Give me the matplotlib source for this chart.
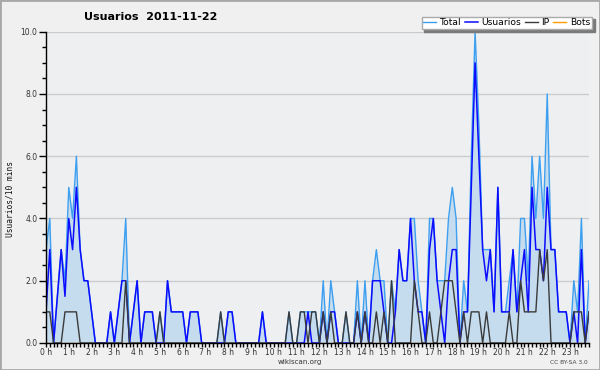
import matplotlib
matplotlib.use('Agg')
import matplotlib.pyplot as plt
import numpy as np
from matplotlib.ticker import MultipleLocator, FixedLocator, FixedFormatter
from matplotlib.patches import Rectangle

title = "Usuarios  2011-11-22"
hour_labels = [f"{h} h" for h in range(24)]

usuarios = [1, 3, 0, 1.5, 3, 1.5, 4, 3, 5, 3, 2, 2, 1, 0, 0, 0, 0, 1, 0, 1,
            2, 2, 0, 1, 2, 0, 1, 1, 1, 0, 0, 0, 2, 1, 1, 1, 1, 0, 1, 1,
            1, 0, 0, 0, 0, 0, 0, 0, 1, 1, 0, 0, 0, 0, 0, 0, 0, 1, 0, 0,
            0, 0, 0, 0, 0, 0, 0, 0, 0, 1, 0, 0, 0, 1, 0, 1, 1, 0, 0, 0,
            0, 0, 1, 0, 1, 0, 2, 2, 2, 1, 0, 0, 1, 3, 2, 2, 4, 2, 1, 1,
            0, 3, 4, 2, 1, 0, 2, 3, 3, 0, 1, 1, 5, 9, 6, 3, 2, 3, 1, 5,
            1, 1, 1, 3, 1, 2, 3, 1, 5, 3, 3, 2, 5, 3, 3, 1, 1, 1, 0, 1,
            0, 3, 0, 1]
ip = [1, 1, 0, 0, 0, 1, 1, 1, 1, 0, 0, 0, 0, 0, 0, 0, 0, 0, 0, 0,
      0, 2, 0, 0, 0, 0, 0, 0, 0, 0, 1, 0, 0, 0, 0, 0, 0, 0, 0, 0,
      0, 0, 0, 0, 0, 0, 1, 0, 0, 0, 0, 0, 0, 0, 0, 0, 0, 0, 0, 0,
      0, 0, 0, 0, 1, 0, 0, 1, 1, 0, 1, 1, 0, 1, 0, 1, 0, 0, 0, 1,
      0, 0, 1, 0, 1, 0, 0, 1, 0, 1, 0, 2, 0, 0, 0, 0, 0, 2, 1, 0,
      0, 1, 0, 0, 1, 2, 2, 2, 1, 0, 1, 0, 1, 1, 1, 0, 1, 0, 0, 0,
      0, 0, 1, 0, 0, 2, 1, 1, 1, 1, 3, 2, 3, 0, 0, 0, 0, 0, 0, 1,
      1, 1, 0, 1]
total = [3, 4, 0, 1.5, 3, 2, 5, 4, 6, 3, 2, 2, 1, 0, 0, 0, 0, 1, 0, 1,
         2, 4, 0, 1, 2, 0, 1, 1, 1, 0, 1, 0, 2, 1, 1, 1, 1, 0, 1, 1,
         1, 0, 0, 0, 0, 0, 1, 0, 1, 1, 0, 0, 0, 0, 0, 0, 0, 1, 0, 0,
         0, 0, 0, 0, 1, 0, 0, 1, 1, 1, 1, 1, 0, 2, 0, 2, 1, 0, 0, 1,
         0, 0, 2, 0, 2, 0, 2, 3, 2, 2, 0, 2, 1, 3, 2, 2, 4, 4, 2, 1,
         0, 4, 4, 2, 2, 2, 4, 5, 4, 0, 2, 1, 6, 10, 7, 3, 3, 3, 1, 5,
         1, 1, 2, 3, 1, 4, 4, 2, 6, 4, 6, 4, 8, 3, 3, 1, 1, 1, 0, 2,
         1, 4, 0, 2]
bots = [0] * 144

W, H = 600, 370
fig = plt.figure(figsize=(6, 3.7), dpi=100, facecolor='#f0f0f0')
ax = fig.add_axes([46 / W, 1 - 343 / H, (589 - 46) / W, (343 - 31.7) / H])
ax.set_facecolor('#eeeff1')

t = np.arange(len(total)) / 6.0
ax.fill_between(t, total, 0, color='#c5dcef', lw=0, zorder=1)
ax.plot(t, bots, color='#ff9900', lw=1, label='Bots', zorder=1.5)
ax.plot(t, total, color='#3d9ff0', lw=1, label='Total', zorder=3)
ax.plot(t, usuarios, color='#0c0cff', lw=1.1, label='Usuarios', zorder=4)
ax.plot(t, ip, color='#3a3a3a', lw=1, label='IP', zorder=5)

ax.set_xlim(0, t[-1])
ax.set_ylim(0, 10)

for s in ['top', 'right']:
    ax.spines[s].set_visible(False)
for s in ['left', 'bottom']:
    ax.spines[s].set_color('black')
    ax.spines[s].set_linewidth(1)
    ax.spines[s].set_zorder(6)

ax.yaxis.set_major_locator(MultipleLocator(2))
ax.yaxis.set_minor_locator(MultipleLocator(0.5))
ax.set_yticklabels([f"{v:.1f}" for v in ax.get_yticks()])
ax.xaxis.set_major_locator(FixedLocator(list(range(24))))
ax.xaxis.set_major_formatter(FixedFormatter(hour_labels))
ax.xaxis.set_minor_locator(MultipleLocator(1 / 6))
ax.tick_params(axis='both', which='major', direction='out', length=3, width=1,
               labelsize=5.5, labelcolor='#333333', pad=0.8)
ax.tick_params(axis='both', which='minor', direction='out', length=3, width=1)
ax.tick_params(axis='y', which='major', length=5, pad=1.2)
ax.grid(axis='y', which='major', color='#cccccc', lw=1, zorder=0)
ax.set_axisbelow(True)

fig.text(151 / W, 1 - 17 / H, title, ha='center', va='center',
         fontsize=8, fontweight='bold', color='black')
fig.text(10 / W, 1 - 199 / H, "Usuarios/10 mins", rotation=90, ha='center', va='center',
         fontsize=5.7, family='DejaVu Sans Mono', color='#111111')
fig.text(300 / W, 1 - 362 / H, "wikiscan.org", ha='center', va='center',
         fontsize=5.1, color='#333333')
fig.text(569 / W, 1 - 362 / H, "CC BY-SA 3.0", ha='center', va='center',
         fontsize=4.2, color='#444444')

handles, labels = ax.get_legend_handles_labels()
order = ['Total', 'Usuarios', 'IP', 'Bots']
hmap = dict(zip(labels, handles))
leg = fig.legend([hmap[k] for k in order], order, loc='upper right',
                 bbox_to_anchor=(592 / W, 1 - 16.5 / H), ncol=4, frameon=True,
                 fancybox=False, edgecolor='#aaaaaa', facecolor='white', framealpha=1,
                 shadow={'color': '#7a7a7a', 'alpha': 1}, fontsize=6.6,
                 borderpad=0.2, handlelength=1.4, handletextpad=0.4,
                 columnspacing=0.4, borderaxespad=0)
leg.get_frame().set_linewidth(1)

fig.patches.append(Rectangle((0, 0), 1, 1, transform=fig.transFigure, fill=False,
                             edgecolor='#a8a8a8', lw=2))

fig.savefig('out.png', dpi=100, facecolor=fig.get_facecolor())
